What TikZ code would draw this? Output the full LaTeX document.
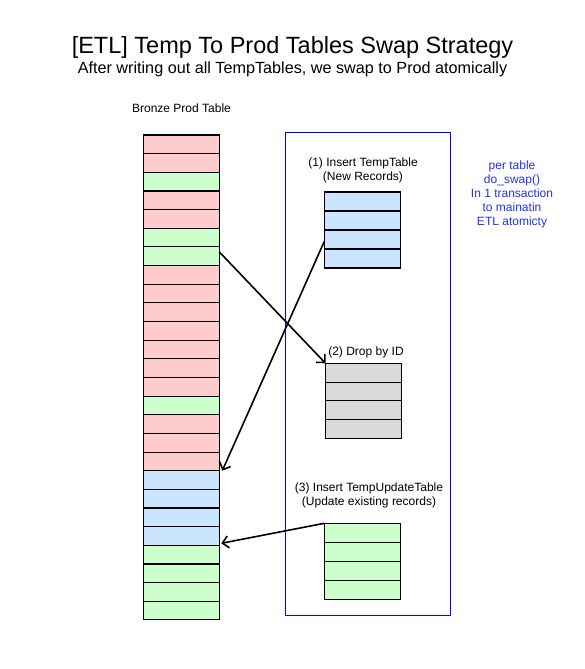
\documentclass[tikz,border=0pt]{standalone}
\usepackage{fontspec}
\setmainfont{Liberation Sans}
\usetikzlibrary{arrows.meta,calc}
\definecolor{rowred}{HTML}{FFCCCC}
\definecolor{rowgreen}{HTML}{CCFFCC}
\definecolor{rowblue}{HTML}{CCE5FF}
\definecolor{rowgray}{HTML}{D9D9D9}
\definecolor{boxblue}{HTML}{0000FF}
\definecolor{noteblue}{HTML}{2233EE}
\begin{document}
\begin{tikzpicture}[x=1pt,y=-1pt,
  cell/.style={draw=black, line width=1.1pt, minimum width=76pt, inner sep=0pt, outer sep=0pt, anchor=north west},
  conn/.style={line width=1.6pt, -{Straight Barb[length=6pt,width=12pt]}},
  lbl/.style={font=\fontsize{12}{14}\selectfont, align=center, inner sep=0pt}]
\useasboundingbox (0,0) rectangle (585,669);
\fill[white] (0,0) rectangle (585,669);
% titles
\node[inner sep=0pt, font=\fontsize{23.5}{27}\selectfont] (title) at (292.5,47) {[ETL] Temp To Prod Tables Swap Strategy};
\node[inner sep=0pt, font=\fontsize{16.2}{19}\selectfont] (subtitle) at (292.5,69) {After writing out all TempTables, we swap to Prod atomically};
\node[lbl] (bronzelbl) at (181.5,108) {Bronze Prod Table};
% container
\node[draw=boxblue, line width=1.1pt, minimum width=165pt, minimum height=483.3pt, inner sep=0pt, anchor=north west] (swapbox) at (285.3,131.7) {};
% big table
\foreach \c [count=\i] in {rowred,rowred,rowgreen,rowred,rowred,rowgreen,rowgreen,rowred,rowred,rowred,rowred,rowred,rowred,rowred,rowgreen,rowred,rowred,rowred,rowblue,rowblue,rowblue,rowblue,rowgreen,rowgreen,rowgreen,rowgreen}
  \node[cell, fill=\c, minimum height=18.65pt] (b\i) at (143.3,{135+(\i-1)*18.65}) {};
% temp tables
\foreach \i in {1,...,4} {
  \node[cell, fill=rowblue, minimum height=19pt] (ta\i) at (324.3,{192+(\i-1)*19}) {};
  \node[cell, fill=rowgray, minimum height=18.75pt] (tb\i) at (325.5,{363.3+(\i-1)*18.75}) {};
  \node[cell, fill=rowgreen, minimum height=19pt] (tc\i) at (324.3,{523.3+(\i-1)*19}) {};
}
\node[lbl] (lbla) at (363,170) {(1) Insert TempTable\\(New Records)};
\node[lbl] (lblb) at (366,352) {(2) Drop by ID};
\node[lbl] (lblc) at (369,495) {(3) Insert TempUpdateTable\\(Update existing records)};
\node[lbl, text=noteblue] (note) at (512,194.5) {per table\\do\_swap()\\In 1 transaction\\to mainatin\\ETL atomicty};
% connectors
\draw[conn] ([yshift=-5pt]b7.north east) -- (tb1.north west);
\draw[conn] ($(ta3.north west)!0.6!(ta3.south west)$) -- ([xshift=3pt]b19.north east);
\draw[conn] (tc1.north west) -- ([xshift=2pt,yshift=2pt]b23.north east);
\end{tikzpicture}
\end{document}
